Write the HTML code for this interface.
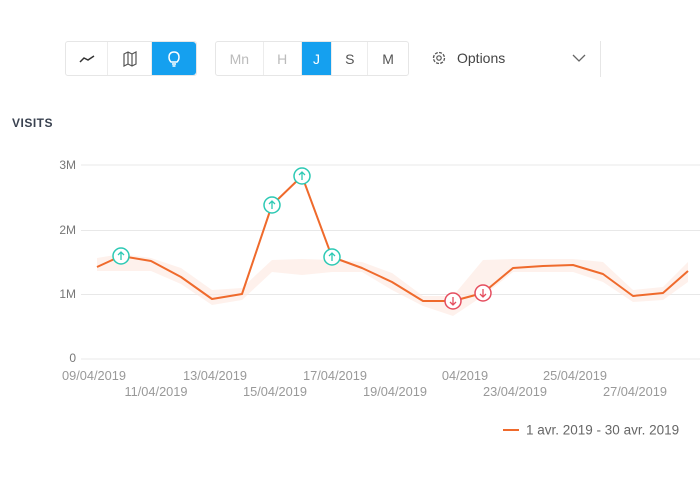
<!DOCTYPE html>
<html><head><meta charset="utf-8"><style>
body{margin:0;width:700px;height:480px;background:#fff;font-family:"Liberation Sans",sans-serif;position:relative;overflow:hidden}
.g{position:absolute;top:41px;height:35px;border:1px solid #e6e6e6;border-radius:3px;display:flex;box-sizing:border-box}
.b{height:100%;display:flex;align-items:center;justify-content:center;border-right:1px solid #ececec;font-size:14px;color:#555;box-sizing:border-box}
.b:last-child{border-right:none}
.on{background:#15a0ef;color:#fff}
</style></head><body>
<div class="g" style="left:65px;width:132px">
 <div class="b" style="width:43px"><svg width="16" height="10"><polyline points="1,8 5,4 9,6 15,2" fill="none" stroke="#333" stroke-width="1.5"/></svg></div>
 <div class="b" style="width:44px"><svg width="16" height="16"><path d="M2,3 L6,1 L10,3 L14,1 L14,13 L10,15 L6,13 L2,15Z M6,1V13 M10,3V15" fill="none" stroke="#555" stroke-width="1.2"/></svg></div>
 <div class="b on" style="width:45px;border-radius:0 3px 3px 0"><svg width="14" height="18"><path d="M4,12 C1,9 1,2 7,2 C13,2 13,9 10,12 Z M5,14H9 M5.5,16H8.5" fill="none" stroke="#fff" stroke-width="1.5"/></svg></div>
</div>
<div class="g" style="left:215px;width:194px">
 <div class="b" style="width:48px;color:#bbb">Mn</div>
 <div class="b" style="width:38px;color:#bbb">H</div>
 <div class="b on" style="width:31px">J</div>
 <div class="b" style="width:36px">S</div>
 <div class="b" style="width:40px">M</div>
</div>
<div style="position:absolute;left:431px;top:50px;font-size:14px;color:#444;display:flex;align-items:center">
 <svg width="16" height="16" style="margin-right:10px"><circle cx="8" cy="8" r="5.5" fill="none" stroke="#555" stroke-width="1.3" stroke-dasharray="3 1.3"/><circle cx="8" cy="8" r="2.2" fill="none" stroke="#555" stroke-width="1.2"/></svg>Options</div>
<svg style="position:absolute;left:572px;top:54px" width="14" height="9"><polyline points="1,1 7,7 13,1" fill="none" stroke="#666" stroke-width="1.3"/></svg>
<div style="position:absolute;left:600px;top:41px;width:1px;height:36px;background:#e6e6e6"></div>
<div style="position:absolute;left:12px;top:116px;font-size:12px;font-weight:bold;color:#3a4250;letter-spacing:0.5px">VISITS</div>
<svg style="position:absolute;left:0;top:0" width="700" height="480">
 <g stroke="#e8e8e8" stroke-width="1">
  <line x1="81" y1="165" x2="700" y2="165"/><line x1="81" y1="230.5" x2="700" y2="230.5"/><line x1="81" y1="294.5" x2="700" y2="294.5"/><line x1="81" y1="359" x2="700" y2="359"/>
 </g>
 <g font-size="12" fill="#777" text-anchor="end">
  <text x="76" y="169">3M</text><text x="76" y="234">2M</text><text x="76" y="298">1M</text><text x="76" y="362">0</text>
 </g>
 <polygon fill="#fde8df" opacity="0.6" points="97,258 121,254 151,258 181,268 212,290 242,288 272,260 302,259 332,260 362,262 392,273 423,296 453,296 483,260 513,259 543,259 573,259 603,262 633,290 663,287 688,262 688,282 663,300 633,302 603,282 573,272 543,272 513,272 483,296 453,316 423,306 392,290 362,272 332,272 302,275 272,272 242,300 212,305 181,284 151,271 121,271 97,271"/>
 <polyline fill="none" stroke="#ef6a2c" stroke-width="2" stroke-linejoin="round" points="97,267 121,256 151,261 181,277 212,299 242,294 272,205 302,176 332,257 362,268 392,282 423,301 453,301 483,293 513,268 543,266 573,265 603,274 633,296 663,293 688,271"/>
 <g fill="#fff" stroke="#2cc9b4" stroke-width="1.5">
  <circle cx="121" cy="256" r="8"/><circle cx="272" cy="205" r="8"/><circle cx="302" cy="176" r="8"/><circle cx="332" cy="257" r="8"/>
 </g>
 <g stroke="#2cc9b4" stroke-width="1.3" fill="none">
  <path d="M121,260V252M118,255L121,252L124,255"/><path d="M272,209V201M269,204L272,201L275,204"/><path d="M302,180V172M299,175L302,172L305,175"/><path d="M332,261V253M329,256L332,253L335,256"/>
 </g>
 <g fill="#fff" stroke="#e54d5e" stroke-width="1.5">
  <circle cx="453" cy="301" r="8"/><circle cx="483" cy="293" r="8"/>
 </g>
 <g stroke="#e54d5e" stroke-width="1.3" fill="none">
  <path d="M453,297V305M450,302L453,305L456,302"/><path d="M483,289V297M480,294L483,297L486,294"/>
 </g>
 <g font-size="12.8" fill="#999" text-anchor="middle">
  <text x="94" y="380">09/04/2019</text><text x="156" y="396">11/04/2019</text>
  <text x="215" y="380">13/04/2019</text><text x="275" y="396">15/04/2019</text>
  <text x="335" y="380">17/04/2019</text><text x="395" y="396">19/04/2019</text>
  <text x="465" y="380">04/2019</text><text x="515" y="396">23/04/2019</text>
  <text x="575" y="380">25/04/2019</text><text x="635" y="396">27/04/2019</text>
 </g>
 <line x1="503" y1="430" x2="519" y2="430" stroke="#ef6a2c" stroke-width="2"/>
 <text x="526" y="434.5" font-size="13.5" fill="#666">1 avr. 2019 - 30 avr. 2019</text>
</svg>
</body></html>
